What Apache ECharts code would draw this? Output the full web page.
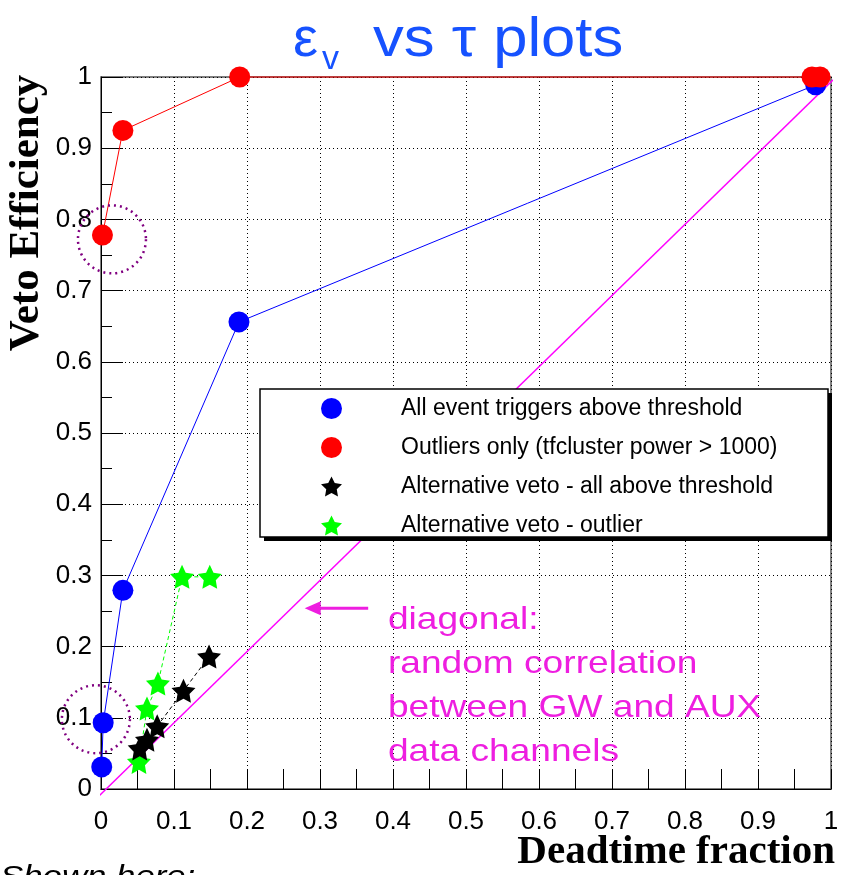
<!DOCTYPE html>
<html><head><meta charset="utf-8">
<script src="https://cdn.jsdelivr.net/npm/echarts@6/dist/echarts.min.js"></script>
<style>html,body{margin:0;padding:0;background:#fff}#c{width:844px;height:875px}</style>
</head><body><div id="c"></div>
<script>
// ---- data ----
const seriesNames = [
  'All event triggers above threshold',
  'Outliers only (tfcluster power > 1000)',
  'Alternative veto - all above threshold',
  'Alternative veto - outlier'
];
const allDeadtime = [0.001, 0.003, 0.030, 0.189, 0.979];
const allEff      = [0.031, 0.093, 0.279, 0.656, 0.989];
const outDeadtime = [0.002, 0.030, 0.190, 0.974, 0.985];
const outEff      = [0.778, 0.925, 1.000, 1.000, 1.000];
const altAllDeadtime = [0.053, 0.063, 0.077, 0.113, 0.148];
const altAllEff      = [0.057, 0.069, 0.088, 0.138, 0.186];
const altOutDeadtime = [0.052, 0.063, 0.078, 0.111, 0.149];
const altOutEff      = [0.038, 0.113, 0.148, 0.298, 0.298];
const diagDeadtime = [-0.006, 1.003];
const diagEff      = [-0.013, 0.996];
const circledPoints = [[0.015, 0.772], [-0.007, 0.098]];
const arrowFrom = [0.366, 0.254];
const arrowTo   = [0.279, 0.254];
const noteAnchor = [0.393, 0.223];
const noteLines = ['diagonal:', 'random correlation', 'between GW and AUX', 'data channels'];
const xTitle = 'Deadtime fraction';
const yTitle = 'Veto Efficiency';
const bottomNote = 'Shown here:';

const zip = (a, b) => a.map((v, i) => [v, b[i]]);
const STAR = 'path://M50,0 L64.7,29.8 L97.6,34.5 L73.8,57.7 L79.4,90.5 L50,75 L20.6,90.5 L26.2,57.7 L2.4,34.5 L35.3,29.8 Z';
const SANS = 'Liberation Sans';
const SERIF = 'Liberation Serif';

const chart = echarts.init(document.getElementById('c'), null, {renderer: 'canvas'});

function axisCommon(tickLen, minorLen, labelMargin) {
  return {
    type: 'value', min: 0, max: 1, interval: 0.1,
    axisLine: {show: true, onZero: false, lineStyle: {color: '#000', width: 1}},
    axisTick: {show: true, inside: true, length: tickLen, lineStyle: {color: '#000', width: 1}},
    minorTick: {show: true, splitNumber: 2, length: minorLen, lineStyle: {color: '#000', width: 1}},
    splitLine: {show: true, lineStyle: {color: '#000', width: 1, type: [1, 3]}},
    axisLabel: {color: '#000', fontFamily: SANS, fontSize: 26, margin: labelMargin,
      formatter: v => (v === 0 ? '0' : v === 1 ? '1' : v.toFixed(1))}
  };
}

const option = {
  backgroundColor: '#fff',
  animation: false,
  grid: {left: 101, right: 13, top: 77, bottom: 86, show: true, borderColor: '#555', borderWidth: 1.5, backgroundColor: 'transparent'},
  xAxis: axisCommon(20, 20, 20),
  yAxis: axisCommon(22, 11, 9),
  legend: {
    orient: 'vertical', left: 321, top: 397, padding: 0,
    itemWidth: 21, itemHeight: 21, itemGap: 16, z: 6,
    textStyle: {color: '#000', fontFamily: SANS, fontSize: 23, lineHeight: 21, padding: [0, 0, 0, 54]},
    data: [
      {name: seriesNames[0], icon: 'circle'},
      {name: seriesNames[1], icon: 'circle'},
      {name: seriesNames[2], icon: STAR},
      {name: seriesNames[3], icon: STAR}
    ]
  },
  series: [
    {name: seriesNames[0], type: 'line', data: zip(allDeadtime, allEff), symbol: 'circle', symbolSize: 21,
     itemStyle: {color: '#0000ff'}, lineStyle: {color: '#0000ff', width: 1}, z: 2, clip: false},
    {name: seriesNames[1], type: 'line', data: zip(outDeadtime, outEff), symbol: 'circle', symbolSize: 21,
     itemStyle: {color: '#ff0000'}, lineStyle: {color: '#ff0000', width: 1}, z: 2, clip: false},
    {name: seriesNames[3], type: 'line', data: zip(altOutDeadtime, altOutEff), symbol: STAR, symbolSize: 24,
     itemStyle: {color: '#00ff00'}, lineStyle: {color: '#00ff00', width: 1, type: [4, 3]}, z: 2, clip: false},
    {name: seriesNames[2], type: 'line', data: zip(altAllDeadtime, altAllEff), symbol: STAR, symbolSize: 24,
     itemStyle: {color: '#000000'}, lineStyle: {color: '#000000', width: 1, type: [4, 3]}, z: 2, clip: false},
    {name: 'diagonal', type: 'line', data: zip(diagDeadtime, diagEff), symbol: 'none',
     lineStyle: {color: '#ff00ff', width: 1.5}, z: 2, clip: false, silent: true}
  ]
};
chart.setOption(option);

const px = p => chart.convertToPixel({gridIndex: 0}, p);
const magenta = '#ee1ee0';
const graphics = [];
// title (y = top of text box)
graphics.push({type: 'text', x: 293, y: 13, z: 10, style: {text: 'ε', fontFamily: SANS, fontSize: 56, fill: '#1652ff', align: 'left', verticalAlign: 'top'}});
graphics.push({type: 'text', x: 322, y: 43, z: 10, style: {text: 'v', fontFamily: SANS, fontSize: 34, fill: '#1652ff', align: 'left', verticalAlign: 'top'}});
graphics.push({type: 'text', x: 373, y: 13, z: 10, scaleX: 1.1, style: {text: 'vs τ plots', fontFamily: SANS, fontSize: 56, fill: '#1652ff', align: 'left', verticalAlign: 'top'}});
// axis titles
graphics.push({type: 'text', x: 27, y: 213, rotation: Math.PI / 2, z: 10, style: {text: yTitle, fontFamily: SERIF, fontWeight: 'bold', fontSize: 43, fill: '#000', align: 'center', verticalAlign: 'middle'}});
graphics.push({type: 'text', x: 835, y: 832, z: 10, style: {text: xTitle, fontFamily: SERIF, fontWeight: 'bold', fontSize: 41, fill: '#000', align: 'right', verticalAlign: 'top'}});
graphics.push({type: 'text', x: 0, y: 863, z: 10, scaleX: 1.16, style: {text: bottomNote, fontFamily: SANS, fontStyle: 'italic', fontSize: 30, fill: '#000', align: 'left', verticalAlign: 'top'}});
// legend box with shadow
graphics.push({type: 'rect', z: 3, shape: {x: 264, y: 393, width: 568, height: 148}, style: {fill: '#000'}});
graphics.push({type: 'rect', z: 3, shape: {x: 260, y: 389, width: 568, height: 148}, style: {fill: '#fff', stroke: '#000', lineWidth: 1.5}});
// dotted circles
circledPoints.forEach(c => {
  const p = px(c);
  graphics.push({type: 'circle', z: 4, shape: {cx: p[0], cy: p[1], r: 34}, style: {fill: 'none', stroke: '#800080', lineWidth: 2.5, lineDash: [2, 4]}});
});
// arrow
const a0 = px(arrowFrom), a1 = px(arrowTo);
graphics.push({type: 'line', z: 5, shape: {x1: a0[0], y1: a0[1], x2: a1[0] + 12, y2: a1[1]}, style: {stroke: magenta, lineWidth: 3}});
graphics.push({type: 'polygon', z: 5, shape: {points: [[a1[0], a1[1]], [a1[0] + 16, a1[1] - 7], [a1[0] + 16, a1[1] + 7]]}, style: {fill: magenta}});
// annotation text
const na = px(noteAnchor);
noteLines.forEach((t, i) => {
  graphics.push({type: 'text', x: na[0], y: na[1] - 26 + i * 44, z: 5, scaleX: 1.16, style: {text: t, fontFamily: SANS, fontSize: 32, fill: magenta, align: 'left', verticalAlign: 'top'}});
});
chart.setOption({graphic: graphics});
</script></body></html>
